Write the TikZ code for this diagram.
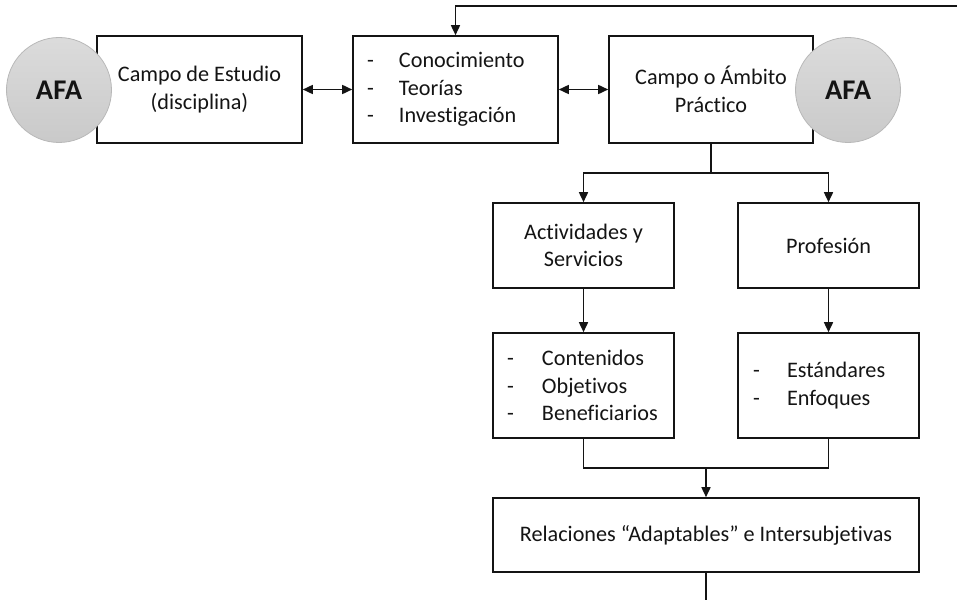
\documentclass[tikz,border=0pt]{standalone}
\usepackage{fontspec}
\setmainfont{Carlito}[Ligatures=NoCommon]
\usetikzlibrary{arrows.meta}
\newcommand\mainfs{\fontsize{22.2pt}{27.5pt}\selectfont}
\newcommand\afafs{\fontsize{28.5pt}{30pt}\selectfont\bfseries}
\definecolor{afatop}{rgb}{0.86,0.86,0.86}
\definecolor{afabot}{rgb}{0.79,0.79,0.79}
\definecolor{afaline}{rgb}{0.72,0.72,0.72}
\definecolor{ink}{rgb}{0.08,0.08,0.08}
\begin{document}
\begin{tikzpicture}[x=1pt,y=-1pt,
  box/.style={draw=ink,line width=1.6pt,rectangle,inner sep=0pt,font=\mainfs,align=center,text=ink},
  listbox/.style={box,align=left,inner xsep=14pt},
  afa/.style={circle,draw=afaline,line width=0.8pt,top color=afatop,bottom color=afabot,minimum size=105pt,inner sep=0pt,font=\afafs,text=ink},
  con/.style={draw=ink,line width=1.6pt},
  arr/.style={con,-{Triangle[length=10pt,width=9pt]}},
  dbl/.style={con,{Triangle[length=10pt,width=9pt]}-{Triangle[length=10pt,width=9pt]}}]
\useasboundingbox (0,0) rectangle (957,599);
% top row
\node[box,minimum width=205pt,minimum height=107pt] (b1) at (199.5,89.5) {Campo de Estudio\\(disciplina)};
\node[listbox,minimum width=205pt,minimum height=107pt,text width=177pt] (b2) at (455.5,89.5)
  {\makebox[32pt][l]{-}Conocimiento\\\makebox[32pt][l]{-}Teorías\\\makebox[32pt][l]{-}Investigación};
\node[box,minimum width=204pt,minimum height=107pt] (b3) at (711,89.5) {Campo o Ámbito\\Práctico};
% second row
\node[box,minimum width=181pt,minimum height=85pt] (b4) at (583.5,245.5) {Actividades y\\Servicios};
\node[box,minimum width=181pt,minimum height=85pt] (b5) at (828.5,245.5) {Profesión};
% third row
\node[listbox,minimum width=181pt,minimum height=105pt,text width=153pt] (b6) at (583.5,385.5)
  {\makebox[35pt][l]{-}Contenidos\\\makebox[35pt][l]{-}Objetivos\\\makebox[35pt][l]{-}Beneficiarios};
\node[listbox,minimum width=181pt,minimum height=105pt,text width=151pt,inner xsep=15pt] (b7) at (828.5,385.5)
  {\makebox[34pt][l]{-}Estándares\\\makebox[34pt][l]{-}Enfoques};
% bottom
\node[box,minimum width=426pt,minimum height=74pt] (b8) at (706,535) {Relaciones “Adaptables” e Intersubjetivas};
% circles
\node[afa] (c1) at (59,90) {AFA};
\node[afa] (c2) at (848,90) {AFA};
% connectors
\draw[dbl] (b1.east) -- (b2.west);
\draw[dbl] (b2.east) -- (b3.west);
\coordinate (topR) at (962,6);
\draw[arr] (topR) -| (b2.north);
\coordinate (fork) at (711,173);
\draw[con] (b3.south) -- (fork);
\draw[arr] (fork) -| (b4.north);
\draw[arr] (fork) -| (b5.north);
\draw[arr] (b4.south) -- (b6.north);
\draw[arr] (b5.south) -- (b7.north);
\coordinate (merge) at (706,468);
\draw[con] (b6.south) |- (merge) -| (b7.south);
\draw[arr] (merge) -- (b8.north);
\coordinate (botE) at (706,604);
\draw[con] (b8.south) -- (botE);
\end{tikzpicture}
\end{document}
